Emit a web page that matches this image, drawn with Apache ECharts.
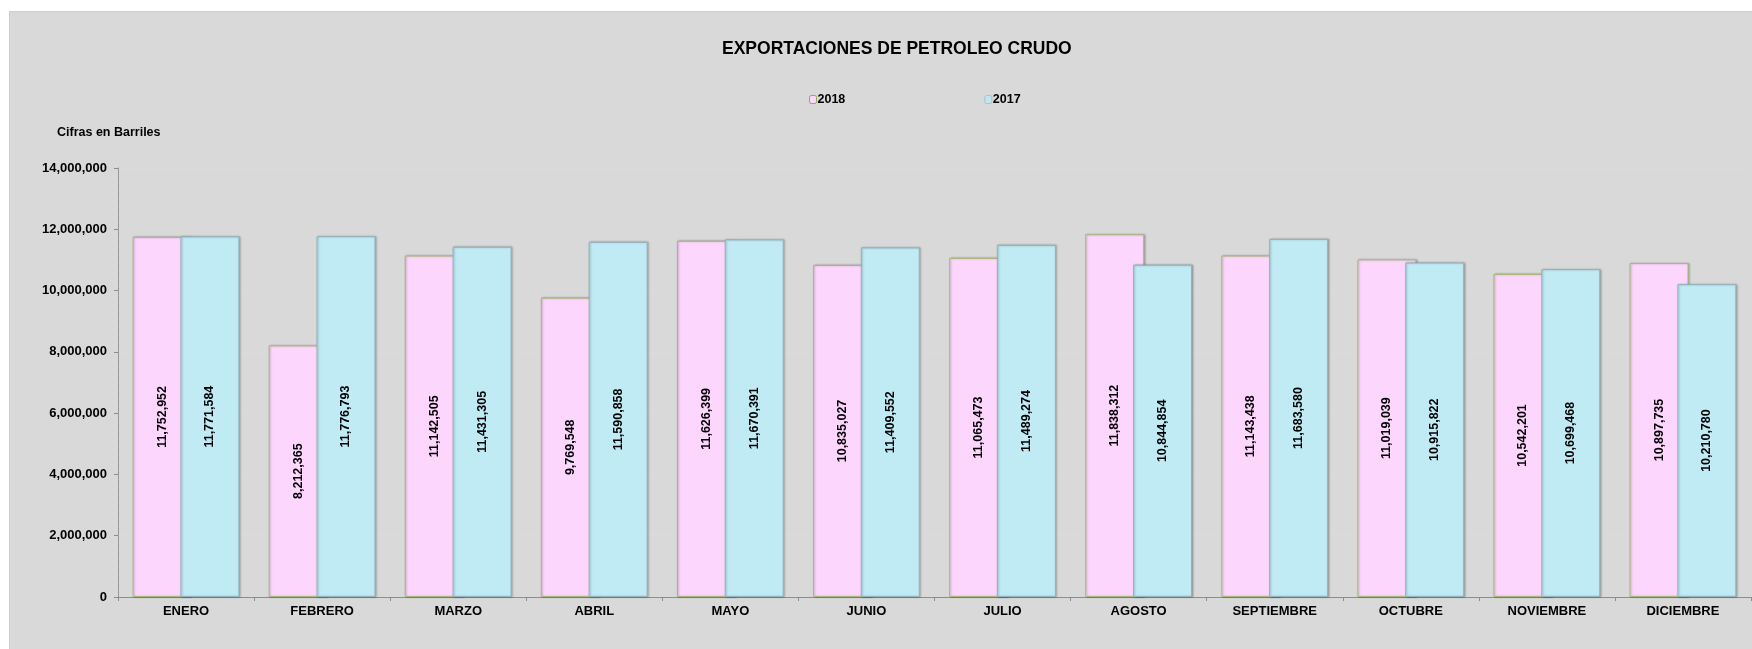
<!DOCTYPE html>
<html>
<head>
<meta charset="utf-8">
<script src="https://cdn.jsdelivr.net/npm/echarts@6/dist/echarts.min.js"></script>
<style>
    html, body { margin: 0; padding: 0; background: #ffffff; overflow: hidden; }
    #chart {
        position: absolute; left: 9px; top: 11px;
        width: 1743px; height: 638px;
        background: #d9d9d9;
        border-top: 1px solid #c9d9a6;
        border-left: 1px solid #c9d9a6;
    }
</style>
</head>
<body>
<div id="chart"></div>
<script>
// meses
var months = ['ENERO', 'FEBRERO', 'MARZO', 'ABRIL', 'MAYO', 'JUNIO', 'JULIO',
    'AGOSTO', 'SEPTIEMBRE', 'OCTUBRE', 'NOVIEMBRE', 'DICIEMBRE'];

// barriles exportados
var data2018 = [11752952, 8212365, 11142505, 9769548, 11626399, 10835027,
    11065473, 11838312, 11143438, 11019039, 10542201, 10897735];
var data2017 = [11771584, 11776793, 11431305, 11590858, 11670391, 11409552,
    11489274, 10844854, 11683580, 10915822, 10699468, 10210780];

var fontName = 'Liberation Sans, Arial, sans-serif';

/**
 * 12345678 -> '12,345,678'
 */
function fmt(n) {
    return String(n).replace(/\B(?=(\d{3})+(?!\d))/g, ',');
}

function makeSeries(name, values, color, border) {
    return {
        name: name,
        type: 'bar',
        data: values,
        barWidth: 59,
        barGap: '-19%',
        itemStyle: {
            color: color,
            borderColor: border,
            borderWidth: 1,
            shadowColor: 'rgba(0,0,0,0.25)',
            shadowBlur: 2,
            shadowOffsetX: 1
        },
        label: {
            show: true,
            position: 'inside',
            rotate: 90,
            color: '#000',
            fontFamily: fontName,
            fontWeight: 'bold',
            fontSize: 12.5,
            formatter: function(p) {
                return fmt(p.value);
            }
        }
    };
}

var myChart = echarts.init(document.getElementById('chart'));

var option = {
    animation: false,
    backgroundColor: '#d9d9d9',
    title: [{
        text: 'EXPORTACIONES DE PETROLEO CRUDO',
        left: 707,
        top: 23,
        textStyle: { fontFamily: fontName, fontWeight: 'bold', fontSize: 17.5, color: '#000' }
    }, {
        text: 'Cifras en Barriles',
        left: 42,
        top: 109,
        textStyle: { fontFamily: fontName, fontWeight: 'bold', fontSize: 12.5, color: '#000' }
    }],
    legend: {
        left: 794,
        top: 76,
        itemWidth: 7,
        itemHeight: 8,
        itemGap: 139,
        textStyle: { fontFamily: fontName, fontWeight: 'bold', fontSize: 12.5, color: '#000', padding: [0, 0, 0, -4] },
        data: [{
            name: '2018',
            itemStyle: { color: '#fdd6fd', borderColor: '#8fa85a', borderWidth: 1 }
        }, {
            name: '2017',
            itemStyle: { color: '#c0e6f0', borderColor: '#a9c3cb', borderWidth: 1 }
        }]
    },
    grid: {
        left: 108,
        right: 2,
        top: 156,
        bottom: 53
    },
    xAxis: {
        type: 'category',
        data: months,
        axisLine: { lineStyle: { color: '#8c8c8c', width: 1 } },
        axisTick: { show: true, length: 4, lineStyle: { color: '#8c8c8c' } },
        axisLabel: { fontFamily: fontName, fontWeight: 'bold', fontSize: 13, color: '#000', margin: 8 }
    },
    yAxis: {
        type: 'value',
        min: 0,
        max: 14000000,
        interval: 2000000,
        axisLine: { show: true, lineStyle: { color: '#8c8c8c', type: 'dotted' } },
        axisTick: { show: true, length: 4, lineStyle: { color: '#8c8c8c' } },
        axisLabel: {
            fontFamily: fontName, fontWeight: 'bold', fontSize: 13, color: '#000', margin: 11,
            formatter: function(v) { return fmt(v); }
        },
        splitLine: { show: true, lineStyle: { color: '#dbdbdb', width: 1 } }
    },
    series: [
        makeSeries('2018', data2018, '#fdd6fd', '#a9b879'),
        makeSeries('2017', data2017, '#c0ebf5', '#93b3bc')
    ]
};

myChart.setOption(option);
</script>
</body>
</html>
